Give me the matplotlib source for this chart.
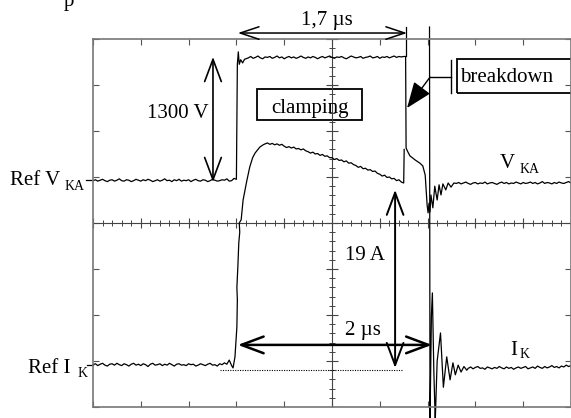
import numpy as np
import matplotlib
matplotlib.use("Agg")
import matplotlib.pyplot as plt
from matplotlib.patches import Rectangle

plt.rcParams['font.family'] = ['Liberation Serif', 'DejaVu Serif']

# screen: 10 x 8 divisions, values read in divisions
STEP = 0.05

# V_KA trace
vka_base = [0.92, 0.94, 0.91, 0.93, 0.95, 0.92, 0.90, 0.93, 0.94, 0.91,
            0.93, 0.96, 0.92, 0.91, 0.94, 0.93, 0.90, 0.92, 0.95, 0.93,
            0.91, 0.94, 0.92, 0.95, 0.93, 0.90, 0.92, 0.94, 0.91, 0.93,
            0.96, 0.92, 0.93, 0.90, 0.94, 0.92, 0.95, 0.91, 0.93, 0.92,
            0.94, 0.90, 0.93, 0.95, 0.92, 0.91, 0.94, 0.93, 0.90, 0.92,
            0.95, 0.93, 0.91, 0.92, 0.94, 0.93, 0.96, 0.91, 0.92, 0.97]
vka_rise_t = [3.00, 3.02, 3.04, 3.06, 3.09, 3.13, 3.17]
vka_rise_v = [0.95, 3.45, 3.72, 3.45, 3.55, 3.48, 3.56]
vka_top = [3.57, 3.59, 3.62, 3.58, 3.60, 3.63, 3.59, 3.57, 3.61, 3.60,
           3.62, 3.58, 3.60, 3.63, 3.59, 3.61, 3.57, 3.60, 3.62, 3.59,
           3.61, 3.58, 3.60, 3.63, 3.60, 3.58, 3.61, 3.59, 3.62, 3.60,
           3.57, 3.60, 3.62, 3.59, 3.61, 3.63, 3.60, 3.58, 3.61, 3.60,
           3.62, 3.59, 3.57, 3.60, 3.63, 3.61, 3.59, 3.60, 3.62, 3.58,
           3.60, 3.61, 3.63, 3.59, 3.60, 3.62, 3.58, 3.61, 3.60, 3.62,
           3.59, 3.61, 3.63, 3.60, 3.62, 3.61, 3.62]
vka_fall_t = [6.54, 6.55, 6.58, 6.63, 6.74, 6.84, 6.90, 6.95, 6.97, 6.99,
              7.01, 7.03, 7.05, 7.07, 7.11, 7.15, 7.20, 7.24, 7.28, 7.32,
              7.38, 7.43, 7.49, 7.55]
vka_fall_v = [3.62, 1.63, 1.56, 1.46, 1.37, 1.30, 1.24, 1.04, 0.72, 0.39,
              0.22, 0.43, 0.24, 0.61, 0.33, 0.80, 0.50, 0.83, 0.61, 0.85,
              0.72, 0.87, 0.78, 0.87]
vka_after = [0.86, 0.88, 0.85, 0.87, 0.89, 0.86, 0.84, 0.87, 0.88, 0.85,
             0.87, 0.86, 0.89, 0.85, 0.87, 0.88, 0.86, 0.84, 0.87, 0.89,
             0.86, 0.88, 0.85, 0.87, 0.86, 0.89, 0.87, 0.85, 0.88, 0.86,
             0.87, 0.89, 0.86, 0.88, 0.85, 0.87, 0.90, 0.86, 0.88, 0.87,
             0.85, 0.88, 0.86, 0.89, 0.87, 0.86, 0.88, 0.90, 0.87]

# I_K trace
ik_base = [-3.08, -3.06, -3.10, -3.07, -3.05, -3.09, -3.11, -3.07, -3.06, -3.09,
           -3.05, -3.08, -3.10, -3.06, -3.08, -3.11, -3.07, -3.05, -3.09, -3.07,
           -3.10, -3.06, -3.08, -3.12, -3.07, -3.05, -3.09, -3.08, -3.06, -3.10,
           -3.07, -3.09, -3.05, -3.08, -3.11, -3.07, -3.06, -3.09, -3.08, -3.10,
           -3.06, -3.08, -3.07, -3.11, -3.09, -3.06, -3.08, -3.10, -3.07, -3.05,
           -3.09, -3.08, -3.11, -3.06, -3.08, -3.04, -3.07, -2.98]
ik_rise_t = [2.90, 2.93, 2.97, 3.00, 3.01, 3.02, 3.01, 3.03, 3.05, 3.07,
             3.06, 3.10, 3.14, 3.18, 3.22, 3.28, 3.34, 3.39, 3.49, 3.56]
ik_rise_v = [-3.10, -3.15, -2.91, -2.40, -2.26, -1.67, -1.40, -0.96, -0.43, -0.20,
             0.00, 0.07, 0.50, 0.72, 0.93, 1.22, 1.42, 1.52, 1.65, 1.70]
ik_decay = [1.72, 1.74, 1.71, 1.73, 1.70, 1.72, 1.69, 1.71,
            1.67, 1.64, 1.66, 1.63, 1.65, 1.61, 1.62, 1.59, 1.61, 1.57,
            1.55, 1.52, 1.54, 1.50, 1.51, 1.47, 1.49, 1.45, 1.46, 1.42,
            1.42, 1.38, 1.40, 1.36, 1.37, 1.33, 1.35, 1.30, 1.31, 1.27,
            1.25, 1.21, 1.23, 1.18, 1.19, 1.15, 1.16, 1.12, 1.13, 1.08,
            1.06, 1.02, 1.04, 0.99, 1.00, 0.96, 0.97, 0.92, 0.94, 0.89,
            0.87]
ik_ring_t = [7.04, 7.05, 7.08, 7.10, 7.13, 7.16, 7.20, 7.27, 7.33, 7.40,
             7.47, 7.53, 7.58, 7.64, 7.70, 7.76, 7.82]
ik_ring_v = [4.26, -4.30, -2.00, -1.52, -3.20, -4.30, -3.00, -2.39, -3.57, -2.91,
             -3.41, -3.04, -3.30, -3.09, -3.24, -3.12, -3.20]
ik_after = [-3.16, -3.13, -3.17, -3.14, -3.12, -3.16, -3.15, -3.18, -3.13, -3.15,
            -3.17, -3.14, -3.16, -3.12, -3.15, -3.17, -3.13, -3.16, -3.14, -3.18,
            -3.15, -3.13, -3.16, -3.14, -3.12, -3.17, -3.15, -3.13, -3.16, -3.11,
            -3.14, -3.16, -3.12, -3.15, -3.13, -3.10, -3.14, -3.12, -3.15, -3.11,
            -3.13, -3.09, -3.12, -3.10]


def seg(start, vals):
    return start + STEP * np.arange(len(vals)), np.array(vals)


t1, v1 = seg(0.0, vka_base)
t2, v2 = seg(3.20, vka_top)
t3, v3 = seg(7.60, vka_after)
vka_t = np.concatenate([t1, vka_rise_t, t2, vka_fall_t, t3])
vka_v = np.concatenate([v1, vka_rise_v, v2, vka_fall_v, v3])

a1, b1 = seg(0.0, ik_base)
a2, b2 = seg(3.60, ik_decay)
a3, b3 = seg(7.85, ik_after)
ik_t = np.concatenate([a1, ik_rise_t, a2, [6.51, np.nan], ik_ring_t, a3])
ik_v = np.concatenate([b1, ik_rise_v, b2, [1.60, np.nan], ik_ring_v, b3])

fig = plt.figure(figsize=(5.71, 4.18), dpi=100)
ax = fig.add_axes([93 / 571, 11 / 418, 478 / 571, 368 / 418])
ax.set_xlim(0, 10)
ax.set_ylim(-4, 4)

for s in ax.spines.values():
    s.set_color('#777777')
    s.set_linewidth(1.2)
ax.set_xticks(range(11))
ax.set_yticks(range(-4, 5))
ax.tick_params(direction='in', length=4, width=0.8, color='#555555',
               top=True, right=True, labelbottom=False, labelleft=False)

# centre crosshair with fine graduations
ax.axhline(0, color='#444444', lw=0.8)
ax.axvline(5, color='#444444', lw=0.8)
fine_x = np.arange(0, 10.01, 0.2)
fine_y = np.arange(-4, 4.01, 0.2)
ax.vlines(fine_x, -0.065, 0.065, color='#444444', lw=0.7)
ax.vlines(range(11), -0.11, 0.11, color='#444444', lw=0.8)
ax.hlines(fine_y, 4.935, 5.065, color='#444444', lw=0.7)
ax.hlines(range(-4, 5), 4.87, 5.13, color='#444444', lw=0.8)

ax.plot(vka_t, vka_v, color='black', lw=0.9, clip_on=False)
ax.plot(ik_t, ik_v, color='black', lw=0.9, clip_on=False)

# dimension arrows (open heads)
head_h = '<->,head_length=1.35,head_width=0.45'
head_v = '<->,head_length=1.6,head_width=0.6'
ax.annotate('', xy=(3.03, 4.13), xytext=(6.57, 4.13), annotation_clip=False,
            arrowprops=dict(arrowstyle=head_h, lw=1.1, color='black',
                            shrinkA=0, shrinkB=0, mutation_scale=10))
ax.plot([6.55, 6.55], [4.26, 3.62], color='black', lw=0.9, clip_on=False)
ax.text(4.90, 4.30, '1,7 µs', ha='center', va='baseline', fontsize=15)

ax.annotate('', xy=(2.51, 3.61), xytext=(2.51, 0.89),
            arrowprops=dict(arrowstyle=head_v, lw=1.2, color='black',
                            shrinkA=0, shrinkB=0, mutation_scale=10))
ax.text(2.41, 2.28, '1300 V', ha='right', va='baseline', fontsize=15)

ax.annotate('', xy=(6.32, 0.72), xytext=(6.32, -3.15),
            arrowprops=dict(arrowstyle=head_v, lw=1.4, color='black',
                            shrinkA=0, shrinkB=0, mutation_scale=10))
ax.text(5.27, -0.80, '19 A', ha='left', va='baseline', fontsize=15)

ax.annotate('', xy=(3.03, -2.65), xytext=(7.09, -2.65),
            arrowprops=dict(arrowstyle=head_v, lw=1.8, color='black',
                            shrinkA=0, shrinkB=0, mutation_scale=10))
ax.text(5.27, -2.43, '2 µs', ha='left', va='baseline', fontsize=15)
ax.plot([2.66, 6.46], [-3.20, -3.20], color='black', lw=0.8, ls=(0, (1, 1.2)))

# labelled boxes
ax.add_patch(Rectangle((3.43, 2.24), 2.20, 0.67, fill=False, lw=1.3,
                       edgecolor='black'))
ax.text(4.53, 2.39, 'clamping', ha='center', va='baseline', fontsize=15)

ax.add_patch(Rectangle((7.62, 2.83), 3.0, 0.74, fill=False, lw=1.3,
                       edgecolor='black', clip_on=False))
ax.text(7.68, 3.07, 'breakdown', ha='left', va='baseline', fontsize=15)
ax.plot([7.49, 7.49], [2.83, 3.54], color='black', lw=1.0)
ax.plot([7.05, 7.49], [3.17, 3.17], color='black', lw=1.0)
ax.annotate('', xy=(6.57, 2.50), xytext=(7.05, 3.17),
            arrowprops=dict(arrowstyle='-|>,head_length=0.9,head_width=0.35',
                            lw=1.0, color='black', shrinkA=0, shrinkB=0,
                            mutation_scale=18))

# trace labels
ax.text(8.51, 1.20, 'V', ha='left', va='baseline', fontsize=15)
ax.text(8.93, 1.09, 'KA', ha='left', va='baseline', fontsize=10)
ax.text(8.72, -2.87, 'I', ha='left', va='baseline', fontsize=15)
ax.text(8.93, -2.93, 'K', ha='left', va='baseline', fontsize=10)

# reference markers on the left
ax.text(-1.74, 0.83, 'Ref V', ha='left', va='baseline', fontsize=15)
ax.text(-0.59, 0.72, 'KA', ha='left', va='baseline', fontsize=10)
ax.plot([-0.15, 0.0], [0.93, 0.93], color='black', lw=0.9, clip_on=False)
ax.text(-1.36, -3.26, 'Ref I', ha='left', va='baseline', fontsize=15)
ax.text(-0.33, -3.35, 'K', ha='left', va='baseline', fontsize=10)
ax.plot([-0.13, 0.0], [-3.09, -3.09], color='black', lw=0.9, clip_on=False)

fig.text(64 / 571, 1 - 6 / 418, 'p', ha='left', va='baseline', fontsize=15)

fig.savefig('out.png', dpi=100)
